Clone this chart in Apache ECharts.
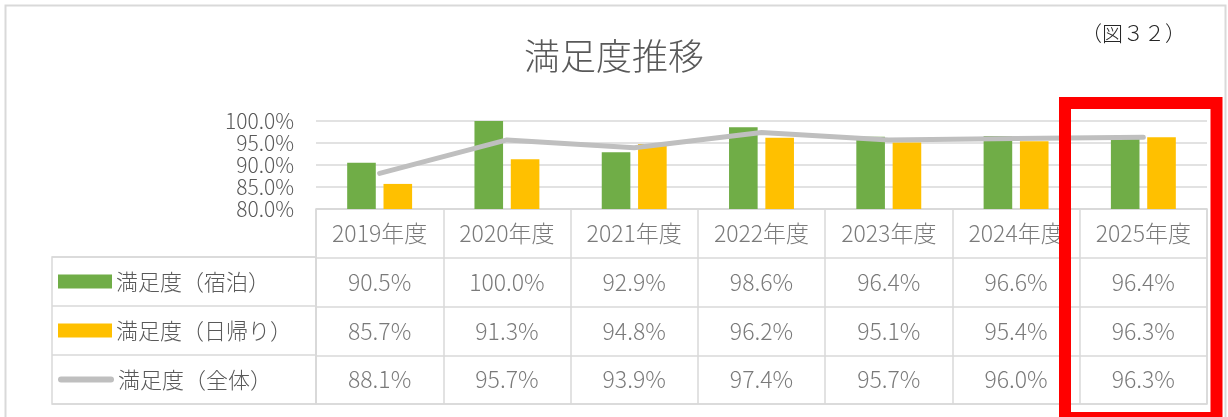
<!DOCTYPE html>
<html lang="ja">
<head>
    <meta charset="UTF-8">
    <script type="text/javascript" src="https://cdn.jsdelivr.net/npm/echarts@6/dist/echarts.min.js"></script>
    <style>
        html, body { margin: 0; padding: 0; background: #fff; }
        #chart { width: 1228px; height: 417px; }
    </style>
</head>
<body>
    <div id="chart"></div>
<script>
    // 年度
    var years = ['2019年度', '2020年度', '2021年度', '2022年度', '2023年度', '2024年度', '2025年度'];
    // 満足度（宿泊）
    var stayData = [90.5, 100.0, 92.9, 98.6, 96.4, 96.6, 96.4];
    // 満足度（日帰り）
    var dayData = [85.7, 91.3, 94.8, 96.2, 95.1, 95.4, 96.3];
    // 満足度（全体）
    var allData = [88.1, 95.7, 93.9, 97.4, 95.7, 96.0, 96.3];
    var seriesNames = ['満足度（宿泊）', '満足度（日帰り）', '満足度（全体）'];
    var yTicks = { min: 80, max: 100, interval: 5 };

    var green = '#70AD47', yellow = '#FFC000', gray = '#BFBFBF';
    var textColor = '#595959', lineColor = '#D9D9D9';

    function pct(v) { return v.toFixed(1) + '%'; }

    // 表のセル（見出し行 + 3行）
    var cells = [];
    var rows = [stayData, dayData, allData];
    for (var i = 0; i < years.length; i++) {
        cells.push({ value: [i, 0], text: years[i] });
        for (var r = 0; r < rows.length; r++) {
            cells.push({ value: [i, r + 1], text: pct(rows[r][i]) });
        }
    }

    var chart = echarts.init(document.getElementById('chart'));

    var option = {
        animation: false,
        textStyle: { fontFamily: '"Noto Sans CJK JP", "Noto Sans", sans-serif', fontWeight: 300 },
        title: {
            text: '満足度推移',
            left: 'center',
            top: 33,
            textStyle: { fontSize: 36, fontWeight: 300, color: textColor }
        },
        graphic: [
            {
                type: 'rect',
                shape: { x: 5.5, y: 5.5, width: 1220, height: 430 },
                style: { fill: null, stroke: lineColor, lineWidth: 2 },
                silent: true
            },
            {
                type: 'text',
                style: {
                    text: '（図３２）', x: 1186, y: 33,
                    align: 'right', verticalAlign: 'middle',
                    fontSize: 21, fill: '#262626', fontWeight: 300,
                    fontFamily: '"Noto Sans CJK JP", sans-serif'
                },
                silent: true
            },
            {
                type: 'rect',
                shape: { x: 1065, y: 103, width: 151.5, height: 315 },
                style: { fill: null, stroke: '#FF0000', lineWidth: 12 },
                z: 100,
                silent: true
            }
        ],
        grid: [
            // グラフ
            { left: 316, right: 21, top: 121, height: 88, containLabel: false },
            // 表（年度 + 値）
            { left: 316, right: 21, top: 209, height: 195, show: true, borderColor: lineColor, borderWidth: 1.5, backgroundColor: 'transparent' },
            // 表（系列名）
            { left: 52, width: 264, top: 257, height: 147, show: true, borderColor: lineColor, borderWidth: 1.5, backgroundColor: 'transparent' }
        ],
        xAxis: [
            {
                gridIndex: 0, type: 'category', data: years,
                axisLine: { show: false }, axisTick: { show: false }, axisLabel: { show: false }
            },
            {
                gridIndex: 1, type: 'category', data: years,
                axisLine: { show: false }, axisTick: { show: false }, axisLabel: { show: false },
                splitLine: { show: true, interval: 0, lineStyle: { color: lineColor, width: 1.5 } }
            },
            {
                gridIndex: 2, type: 'value', show: false
            }
        ],
        yAxis: [
            {
                gridIndex: 0, type: 'value',
                min: yTicks.min, max: yTicks.max, interval: yTicks.interval,
                axisLine: { show: false }, axisTick: { show: false },
                axisLabel: {
                    formatter: function (v) { return pct(v); },
                    fontSize: 21, color: textColor, margin: 22
                },
                splitLine: { lineStyle: { color: lineColor, width: 1.5 } }
            },
            {
                gridIndex: 1, type: 'category', inverse: true,
                data: ['年度'].concat(seriesNames),
                axisLine: { show: false }, axisTick: { show: false }, axisLabel: { show: false },
                splitLine: { show: true, interval: 0, lineStyle: { color: lineColor, width: 1.5 } }
            },
            {
                gridIndex: 2, type: 'category', inverse: true,
                data: seriesNames,
                axisLine: { show: false }, axisTick: { show: false },
                splitLine: { show: true, interval: 0, lineStyle: { color: lineColor, width: 1.5 } },
                axisLabel: {
                    inside: true, align: 'left', margin: 6, interval: 0,
                    formatter: function (v, idx) {
                        var key = ['g', 'y', 'l'][idx];
                        return '{' + key + '|}{t|' + v + '}';
                    },
                    rich: {
                        g: { width: 52, height: 14, backgroundColor: green, padding: [0, 0, 0, 2] },
                        y: { width: 52, height: 14, backgroundColor: yellow, padding: [0, 0, 0, 2] },
                        l: { width: 56, height: 6, borderRadius: 3, backgroundColor: gray },
                        t: { fontSize: 22, color: textColor, padding: [0, 0, 0, 4] }
                    }
                }
            }
        ],
        series: [
            {
                name: seriesNames[0], type: 'bar', data: stayData,
                xAxisIndex: 0, yAxisIndex: 0,
                barWidth: 28.6, barGap: '27%',
                itemStyle: { color: green }
            },
            {
                name: seriesNames[1], type: 'bar', data: dayData,
                xAxisIndex: 0, yAxisIndex: 0,
                barWidth: 28.6, barGap: '27%',
                itemStyle: { color: yellow }
            },
            {
                name: seriesNames[2], type: 'line', data: allData,
                xAxisIndex: 0, yAxisIndex: 0,
                symbol: 'none', z: 5,
                lineStyle: { color: gray, width: 5, cap: 'round', join: 'round' }
            },
            {
                type: 'scatter', data: cells,
                xAxisIndex: 1, yAxisIndex: 1,
                symbolSize: 1, silent: true,
                itemStyle: { color: 'rgba(0,0,0,0)' },
                label: {
                    show: true, position: 'inside',
                    formatter: function (p) { return p.data.text; },
                    fontSize: 23, fontWeight: 300, color: textColor
                }
            }
        ]
    };

    chart.setOption(option);
</script>
</body>
</html>
